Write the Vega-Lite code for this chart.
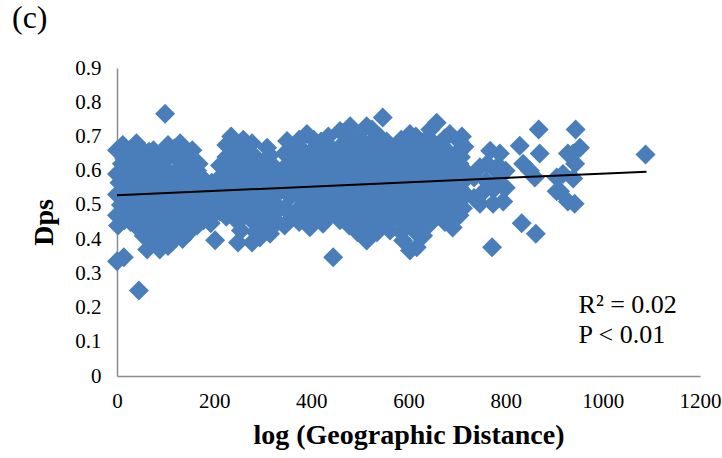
{
  "$schema": "https://vega.github.io/schema/vega-lite/v6.json",
  "width": 583,
  "height": 308,
  "autosize": {"type": "none"},
  "padding": {"left": 117, "top": 68, "right": 22, "bottom": 82},
  "title": {"text": "(c)", "anchor": "start", "frame": "group", "dx": -105, "offset": 22, "font": "Liberation Serif", "fontSize": 32, "fontWeight": "normal", "color": "#000000"},
  "config": {"view": {"stroke": null}, "font": "Liberation Serif"},
  "datasets": {
    "pts": [
      {"x":0,"y":0.335},{"x":14,"y":0.347},{"x":2,"y":0.44},{"x":0,"y":0.47},{"x":8,"y":0.5},{"x":0,"y":0.53},{"x":5,"y":0.565},{"x":0,"y":0.59},{"x":10,"y":0.62},{"x":0,"y":0.66},{"x":12,"y":0.675},
      {"x":28,"y":0.45},{"x":32,"y":0.49},{"x":25,"y":0.52},{"x":35,"y":0.555},{"x":30,"y":0.59},{"x":26,"y":0.63},{"x":30,"y":0.665},{"x":40,"y":0.68},
      {"x":45,"y":0.25},{"x":62,"y":0.37},{"x":55,"y":0.41},{"x":65,"y":0.44},{"x":58,"y":0.48},{"x":62,"y":0.515},{"x":55,"y":0.55},{"x":64,"y":0.585},{"x":58,"y":0.62},{"x":66,"y":0.655},
      {"x":88,"y":0.37},{"x":95,"y":0.4},{"x":85,"y":0.43},{"x":92,"y":0.47},{"x":88,"y":0.505},{"x":95,"y":0.54},{"x":85,"y":0.575},{"x":92,"y":0.61},{"x":90,"y":0.645},{"x":99,"y":0.766},
      {"x":112,"y":0.39},{"x":125,"y":0.41},{"x":118,"y":0.445},{"x":122,"y":0.48},{"x":115,"y":0.52},{"x":124,"y":0.555},{"x":118,"y":0.59},{"x":126,"y":0.63},{"x":118,"y":0.665},{"x":130,"y":0.68},
      {"x":148,"y":0.42},{"x":155,"y":0.455},{"x":150,"y":0.49},{"x":145,"y":0.525},{"x":155,"y":0.56},{"x":150,"y":0.595},{"x":145,"y":0.635},{"x":155,"y":0.66},
      {"x":178,"y":0.455},{"x":185,"y":0.49},{"x":176,"y":0.525},{"x":183,"y":0.56},{"x":175,"y":0.58},{"x":168,"y":0.62},
      {"x":193,"y":0.446},{"x":202,"y":0.397},{"x":212,"y":0.48},{"x":205,"y":0.51},{"x":215,"y":0.545},{"x":208,"y":0.575},{"x":212,"y":0.615},
      {"x":249,"y":0.39},{"x":249,"y":0.45},{"x":238,"y":0.48},{"x":245,"y":0.515},{"x":235,"y":0.55},{"x":242,"y":0.585},{"x":238,"y":0.62},{"x":245,"y":0.655},{"x":235,"y":0.7},
      {"x":278,"y":0.39},{"x":284,"y":0.445},{"x":268,"y":0.475},{"x":272,"y":0.51},{"x":266,"y":0.545},{"x":275,"y":0.58},{"x":268,"y":0.62},{"x":278,"y":0.68},{"x":260,"y":0.69},{"x":272,"y":0.65},
      {"x":294,"y":0.405},{"x":305,"y":0.44},{"x":298,"y":0.475},{"x":302,"y":0.51},{"x":296,"y":0.545},{"x":305,"y":0.58},{"x":300,"y":0.615},{"x":309,"y":0.667},
      {"x":315,"y":0.416},{"x":330,"y":0.45},{"x":335,"y":0.49},{"x":325,"y":0.525},{"x":333,"y":0.56},{"x":327,"y":0.595},{"x":321,"y":0.615},
      {"x":355,"y":0.455},{"x":362,"y":0.47},{"x":358,"y":0.525},{"x":365,"y":0.56},{"x":355,"y":0.595},{"x":362,"y":0.63},{"x":350,"y":0.687},{"x":368,"y":0.66},
      {"x":397,"y":0.435},{"x":388,"y":0.47},{"x":395,"y":0.505},{"x":385,"y":0.54},{"x":392,"y":0.575},{"x":388,"y":0.61},{"x":395,"y":0.645},{"x":391,"y":0.707},
      {"x":424,"y":0.445},{"x":418,"y":0.48},{"x":425,"y":0.515},{"x":415,"y":0.55},{"x":422,"y":0.585},{"x":416,"y":0.62},{"x":425,"y":0.655},{"x":420,"y":0.685},
      {"x":445,"y":0.347},{"x":459,"y":0.455},{"x":448,"y":0.49},{"x":455,"y":0.525},{"x":445,"y":0.56},{"x":452,"y":0.595},{"x":448,"y":0.63},{"x":455,"y":0.665},{"x":459,"y":0.716},
      {"x":478,"y":0.44},{"x":485,"y":0.475},{"x":476,"y":0.51},{"x":484,"y":0.545},{"x":478,"y":0.58},{"x":485,"y":0.615},{"x":476,"y":0.65},{"x":482,"y":0.69},{"x":480,"y":0.73},
      {"x":514,"y":0.396},{"x":508,"y":0.43},{"x":515,"y":0.465},{"x":506,"y":0.5},{"x":513,"y":0.535},{"x":507,"y":0.57},{"x":515,"y":0.605},{"x":508,"y":0.64},{"x":514,"y":0.675},{"x":514,"y":0.73},
      {"x":535,"y":0.42},{"x":545,"y":0.455},{"x":538,"y":0.49},{"x":544,"y":0.525},{"x":536,"y":0.56},{"x":545,"y":0.595},{"x":537,"y":0.63},{"x":544,"y":0.665},{"x":540,"y":0.7},{"x":547,"y":0.755},
      {"x":562,"y":0.425},{"x":572,"y":0.46},{"x":566,"y":0.495},{"x":574,"y":0.53},{"x":565,"y":0.565},{"x":572,"y":0.6},{"x":566,"y":0.635},{"x":575,"y":0.67},
      {"x":589,"y":0.396},{"x":603,"y":0.367},{"x":598,"y":0.44},{"x":605,"y":0.475},{"x":596,"y":0.51},{"x":604,"y":0.545},{"x":597,"y":0.58},{"x":605,"y":0.615},{"x":598,"y":0.65},{"x":603,"y":0.707},{"x":609,"y":0.68},
      {"x":617,"y":0.376},{"x":630,"y":0.41},{"x":625,"y":0.45},{"x":633,"y":0.485},{"x":626,"y":0.52},{"x":634,"y":0.555},{"x":627,"y":0.59},{"x":634,"y":0.625},{"x":628,"y":0.66},{"x":635,"y":0.69},
      {"x":644,"y":0.445},{"x":660,"y":0.47},{"x":655,"y":0.505},{"x":663,"y":0.54},{"x":656,"y":0.575},{"x":664,"y":0.61},{"x":657,"y":0.645},{"x":665,"y":0.68},{"x":658,"y":0.74},
      {"x":691,"y":0.434},{"x":688,"y":0.47},{"x":695,"y":0.505},{"x":686,"y":0.54},{"x":694,"y":0.575},{"x":688,"y":0.61},{"x":695,"y":0.645},{"x":685,"y":0.707},
      {"x":710,"y":0.7},{"x":712,"y":0.49},{"x":718,"y":0.53},{"x":710,"y":0.565},{"x":716,"y":0.6},{"x":708,"y":0.64},{"x":715,"y":0.67},
      {"x":747,"y":0.503},{"x":774,"y":0.503},{"x":795,"y":0.51},{"x":747,"y":0.61},{"x":768,"y":0.658},{"x":788,"y":0.65},{"x":780,"y":0.6},{"x":760,"y":0.57},{"x":790,"y":0.56},{"x":772,"y":0.376},{"x":800,"y":0.6},{"x":755,"y":0.54},
      {"x":735,"y":0.52},{"x":735,"y":0.58},{"x":762,"y":0.62},{"x":775,"y":0.545},{"x":785,"y":0.615},{"x":800,"y":0.55},
      {"x":829,"y":0.673},{"x":836,"y":0.62},{"x":870,"y":0.65},{"x":860,"y":0.58},{"x":868,"y":0.72},{"x":833,"y":0.446},{"x":862,"y":0.416},{"x":850,"y":0.6},
      {"x":905,"y":0.58},{"x":905,"y":0.54},{"x":928,"y":0.51},{"x":918,"y":0.59},{"x":912,"y":0.54},{"x":942,"y":0.503},{"x":944,"y":0.72},{"x":953,"y":0.667},{"x":939,"y":0.65},{"x":943,"y":0.62},{"x":939,"y":0.577},{"x":928,"y":0.65},
      {"x":1088,"y":0.647},
      {"x":15,"y":0.455},{"x":15,"y":0.49},{"x":15,"y":0.525},{"x":15,"y":0.56},{"x":15,"y":0.595},{"x":15,"y":0.635},{"x":15,"y":0.655},
      {"x":45,"y":0.43},{"x":45,"y":0.465},{"x":45,"y":0.5},{"x":45,"y":0.535},{"x":45,"y":0.57},{"x":45,"y":0.605},{"x":45,"y":0.64},{"x":45,"y":0.67},
      {"x":75,"y":0.39},{"x":75,"y":0.42},{"x":75,"y":0.455},{"x":75,"y":0.49},{"x":75,"y":0.525},{"x":75,"y":0.56},{"x":75,"y":0.595},{"x":75,"y":0.63},{"x":75,"y":0.66},
      {"x":105,"y":0.38},{"x":105,"y":0.43},{"x":105,"y":0.46},{"x":105,"y":0.495},{"x":105,"y":0.53},{"x":105,"y":0.565},{"x":105,"y":0.6},{"x":105,"y":0.64},{"x":105,"y":0.675},
      {"x":135,"y":0.4},{"x":135,"y":0.435},{"x":135,"y":0.47},{"x":135,"y":0.505},{"x":135,"y":0.54},{"x":135,"y":0.575},{"x":135,"y":0.61},{"x":135,"y":0.65},{"x":135,"y":0.67},
      {"x":165,"y":0.44},{"x":165,"y":0.475},{"x":165,"y":0.51},{"x":165,"y":0.545},{"x":165,"y":0.575},{"x":165,"y":0.6},
      {"x":195,"y":0.465},{"x":195,"y":0.5},{"x":195,"y":0.535},{"x":195,"y":0.565},
      {"x":225,"y":0.465},{"x":225,"y":0.5},{"x":225,"y":0.535},{"x":225,"y":0.57},{"x":225,"y":0.605},{"x":225,"y":0.64},{"x":225,"y":0.675},
      {"x":255,"y":0.425},{"x":255,"y":0.465},{"x":255,"y":0.5},{"x":255,"y":0.535},{"x":255,"y":0.57},{"x":255,"y":0.605},{"x":255,"y":0.64},{"x":255,"y":0.68},
      {"x":285,"y":0.42},{"x":285,"y":0.46},{"x":285,"y":0.495},{"x":285,"y":0.53},{"x":285,"y":0.565},{"x":285,"y":0.6},{"x":285,"y":0.64},
      {"x":315,"y":0.44},{"x":315,"y":0.47},{"x":315,"y":0.505},{"x":315,"y":0.54},{"x":315,"y":0.575},{"x":315,"y":0.645},
      {"x":345,"y":0.44},{"x":345,"y":0.49},{"x":345,"y":0.54},{"x":345,"y":0.575},{"x":345,"y":0.61},{"x":345,"y":0.65},
      {"x":375,"y":0.45},{"x":375,"y":0.49},{"x":375,"y":0.525},{"x":375,"y":0.56},{"x":375,"y":0.595},{"x":375,"y":0.63},{"x":375,"y":0.67},{"x":375,"y":0.69},
      {"x":405,"y":0.455},{"x":405,"y":0.49},{"x":405,"y":0.525},{"x":405,"y":0.56},{"x":405,"y":0.595},{"x":405,"y":0.63},{"x":405,"y":0.665},{"x":405,"y":0.69},
      {"x":435,"y":0.465},{"x":435,"y":0.5},{"x":435,"y":0.535},{"x":435,"y":0.57},{"x":435,"y":0.605},{"x":435,"y":0.64},{"x":435,"y":0.675},{"x":435,"y":0.7},
      {"x":465,"y":0.465},{"x":465,"y":0.5},{"x":465,"y":0.535},{"x":465,"y":0.57},{"x":465,"y":0.605},{"x":465,"y":0.64},{"x":465,"y":0.675},{"x":465,"y":0.71},
      {"x":495,"y":0.42},{"x":495,"y":0.455},{"x":495,"y":0.49},{"x":495,"y":0.525},{"x":495,"y":0.56},{"x":495,"y":0.595},{"x":495,"y":0.63},{"x":495,"y":0.665},{"x":495,"y":0.7},
      {"x":525,"y":0.44},{"x":525,"y":0.475},{"x":525,"y":0.51},{"x":525,"y":0.545},{"x":525,"y":0.58},{"x":525,"y":0.615},{"x":525,"y":0.65},{"x":525,"y":0.685},{"x":525,"y":0.72},
      {"x":555,"y":0.44},{"x":555,"y":0.475},{"x":555,"y":0.51},{"x":555,"y":0.545},{"x":555,"y":0.58},{"x":555,"y":0.615},{"x":555,"y":0.65},{"x":555,"y":0.685},
      {"x":585,"y":0.42},{"x":585,"y":0.455},{"x":585,"y":0.49},{"x":585,"y":0.525},{"x":585,"y":0.56},{"x":585,"y":0.595},{"x":585,"y":0.63},{"x":585,"y":0.665},{"x":585,"y":0.69},
      {"x":615,"y":0.42},{"x":615,"y":0.46},{"x":615,"y":0.495},{"x":615,"y":0.53},{"x":615,"y":0.565},{"x":615,"y":0.6},{"x":615,"y":0.635},{"x":615,"y":0.67},{"x":615,"y":0.7},
      {"x":645,"y":0.48},{"x":645,"y":0.515},{"x":645,"y":0.55},{"x":645,"y":0.585},{"x":645,"y":0.62},{"x":645,"y":0.655},{"x":645,"y":0.69},{"x":645,"y":0.72},
      {"x":675,"y":0.45},{"x":675,"y":0.49},{"x":675,"y":0.525},{"x":675,"y":0.56},{"x":675,"y":0.595},{"x":675,"y":0.63},{"x":675,"y":0.665},{"x":675,"y":0.695},
      {"x":705,"y":0.47},{"x":705,"y":0.51},{"x":705,"y":0.55},{"x":705,"y":0.585},{"x":705,"y":0.62},{"x":705,"y":0.655},{"x":705,"y":0.685}
    ],
    "trend": [{"x": 0, "y": 0.528}, {"x": 1090, "y": 0.597}],
    "notes": [{"x": 950, "y": 0.207, "t": "R² = 0.02"}, {"x": 950, "y": 0.12, "t": "P < 0.01"}]
  },
  "encoding": {
    "x": {"field": "x", "type": "quantitative", "scale": {"domain": [0, 1200], "nice": false, "zero": false},
      "axis": {"title": "log (Geographic Distance)", "values": [0,200,400,600,800,1000,1200], "format": "d", "labelOverlap": false, "labelFlush": false, "grid": false, "ticks": false, "domainColor": "#8c8c8c", "domainWidth": 1.5, "labelFont": "Liberation Serif", "labelFontSize": 21, "labelColor": "#000000", "labelPadding": 14, "titleFont": "Liberation Serif", "titleFontSize": 28, "titleFontWeight": "bold", "titleColor": "#000000", "titlePadding": 10}},
    "y": {"field": "y", "type": "quantitative", "scale": {"domain": [0, 0.9], "nice": false, "zero": false},
      "axis": {"title": "Dps", "values": [0,0.1,0.2,0.3,0.4,0.5,0.6,0.7,0.8,0.9], "labelOverlap": false, "labelFlush": false, "labelBound": false, "labelExpr": "datum.value == 0 ? '0' : format(datum.value, '.1f')", "grid": false, "ticks": false, "domainColor": "#8c8c8c", "domainWidth": 1.5, "labelFont": "Liberation Serif", "labelFontSize": 21, "labelColor": "#000000", "labelPadding": 16, "titleFont": "Liberation Serif", "titleFontSize": 28, "titleFontWeight": "bold", "titleColor": "#000000", "titlePadding": 16}}
  },
  "layer": [
    {
      "data": {"name": "pts"},
      "mark": {"type": "point", "shape": "diamond", "filled": true, "size": 400, "color": "#4A7EBB", "opacity": 1}
    },
    {
      "data": {"name": "trend"},
      "mark": {"type": "line", "color": "#000000", "strokeWidth": 2}
    },
    {
      "data": {"name": "notes"},
      "mark": {"type": "text", "align": "left", "baseline": "middle", "font": "Liberation Serif", "fontSize": 26, "color": "#000000"},
      "encoding": {"text": {"field": "t"}}
    }
  ]
}
